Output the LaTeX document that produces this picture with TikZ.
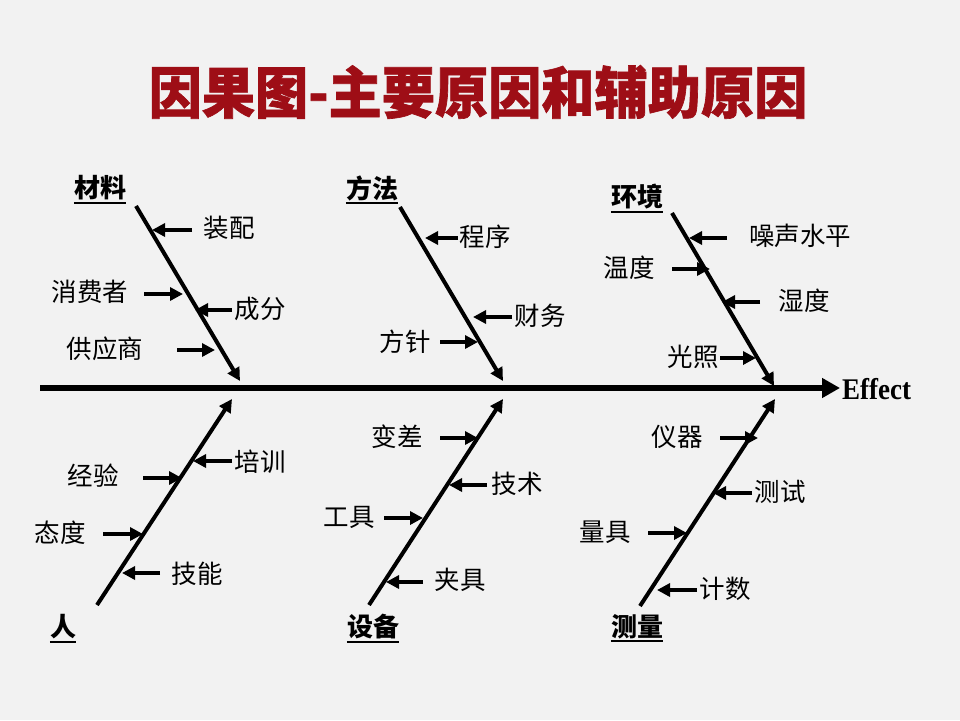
\documentclass[tikz,border=0pt]{standalone}
\usepackage{fontspec}
\newfontfamily\cjk{Noto Sans CJK SC}
\newfontfamily\titlefont{Noto Sans CJK SC}[FakeStretch=0.95,FakeBold=1.2]
\newfontfamily\efont{Liberation Serif}[FakeStretch=0.9]
\usetikzlibrary{arrows.meta}
\definecolor{bgc}{RGB}{242,242,242}
\definecolor{titlered}{RGB}{158,14,22}
\begin{document}
\begin{tikzpicture}[x=1pt,y=-1pt,
  bone/.style={line width=4pt,-{Triangle[length=13pt,width=13pt]}},
  subarr/.style={line width=4pt,-{Triangle[length=13pt,width=13pt]}},
  spine/.style={line width=6.5pt,-{Triangle[length=18pt,width=19pt]}},
  lbl/.style={font=\cjk\fontsize{25.5}{30}\selectfont,inner sep=0pt},
  cat/.style={font=\cjk\bfseries\fontsize{26}{30}\selectfont,inner sep=0pt},
  uline/.style={line width=2pt}]
\fill[bgc] (0,0) rectangle (960,720);
\useasboundingbox (0,0) rectangle (960,720);

% title
\node[font=\titlefont\bfseries\fontsize{56}{60}\selectfont,text=titlered,inner sep=0pt] (title) at (478,92) {因果图-主要原因和辅助原因};

% spine
\coordinate (s0) at (40,388);
\coordinate (s1) at (840,388);
\draw[spine] (s0) -- (s1);
\node[font=\efont\bfseries\fontsize{30}{34}\selectfont,anchor=west,inner sep=0pt] (effect) at (842,389) {Effect};

% bones
\coordinate (b1a) at (136,206); \coordinate (b1b) at (240,381);
\coordinate (b2a) at (400,207); \coordinate (b2b) at (503,381);
\coordinate (b3a) at (672,213); \coordinate (b3b) at (774,386);
\coordinate (b4a) at (97,605);  \coordinate (b4b) at (232,399);
\coordinate (b5a) at (369,605); \coordinate (b5b) at (503,399);
\coordinate (b6a) at (640,606); \coordinate (b6b) at (775,399);
\draw[bone] (b1a) -- (b1b);
\draw[bone] (b2a) -- (b2b);
\draw[bone] (b3a) -- (b3b);
\draw[bone] (b4a) -- (b4b);
\draw[bone] (b5a) -- (b5b);
\draw[bone] (b6a) -- (b6b);

% category labels
\node[cat] (c1) at (100,188) {材料};
\node[cat] (c2) at (372,188) {方法};
\node[cat] (c3) at (637,197) {环境};
\node[cat] (c4) at (63,627) {人};
\node[cat] (c5) at (373,627) {设备};
\node[cat] (c6) at (637,627) {测量};
\foreach \c in {c1,c2,c3,c4,c5,c6}
  \draw[uline] ([yshift=-2pt]\c.south west) -- ([yshift=-2pt]\c.south east);

% 材料
\node[lbl] (t11) at (229,228) {装配};
\node[lbl] (t12) at (90,292) {消费者};
\node[lbl] (t13) at (260,309) {成分};
\node[lbl] (t14) at (105,349) {供应商};
\coordinate (a11s) at (192,230); \coordinate (a11e) at (152,230);
\coordinate (a12s) at (144,294); \coordinate (a12e) at (183,294);
\coordinate (a13s) at (232,310); \coordinate (a13e) at (195,310);
\coordinate (a14s) at (177,350); \coordinate (a14e) at (215,350);
\draw[subarr] (a11s) -- (a11e);
\draw[subarr] (a12s) -- (a12e);
\draw[subarr] (a13s) -- (a13e);
\draw[subarr] (a14s) -- (a14e);

% 方法
\node[lbl] (t21) at (485,237) {程序};
\node[lbl] (t22) at (540,316) {财务};
\node[lbl] (t23) at (405,342) {方针};
\coordinate (a21s) at (458,238); \coordinate (a21e) at (425,238);
\coordinate (a22s) at (512,317); \coordinate (a22e) at (473,317);
\coordinate (a23s) at (440,342); \coordinate (a23e) at (478,342);
\draw[subarr] (a21s) -- (a21e);
\draw[subarr] (a22s) -- (a22e);
\draw[subarr] (a23s) -- (a23e);

% 环境
\node[lbl] (t31) at (800,236) {噪声水平};
\node[lbl] (t32) at (629,268) {温度};
\node[lbl] (t33) at (804,301) {湿度};
\node[lbl] (t34) at (693,357) {光照};
\coordinate (a31s) at (727,238); \coordinate (a31e) at (689,238);
\coordinate (a32s) at (672,269); \coordinate (a32e) at (710,269);
\coordinate (a33s) at (760,302); \coordinate (a33e) at (722,302);
\coordinate (a34s) at (720,358); \coordinate (a34e) at (756,358);
\draw[subarr] (a31s) -- (a31e);
\draw[subarr] (a32s) -- (a32e);
\draw[subarr] (a33s) -- (a33e);
\draw[subarr] (a34s) -- (a34e);

% 人
\node[lbl] (t41) at (260,462) {培训};
\node[lbl] (t42) at (93,476) {经验};
\node[lbl] (t43) at (60,533) {态度};
\node[lbl] (t44) at (197,574) {技能};
\coordinate (a41s) at (232,461); \coordinate (a41e) at (193,461);
\coordinate (a42s) at (143,478); \coordinate (a42e) at (182,478);
\coordinate (a43s) at (103,534); \coordinate (a43e) at (143,534);
\coordinate (a44s) at (160,573); \coordinate (a44e) at (122,573);
\draw[subarr] (a41s) -- (a41e);
\draw[subarr] (a42s) -- (a42e);
\draw[subarr] (a43s) -- (a43e);
\draw[subarr] (a44s) -- (a44e);

% 设备
\node[lbl] (t51) at (397,437) {变差};
\node[lbl] (t52) at (517,484) {技术};
\node[lbl] (t53) at (349,517) {工具};
\node[lbl] (t54) at (460,580) {夹具};
\coordinate (a51s) at (440,438); \coordinate (a51e) at (478,438);
\coordinate (a52s) at (487,485); \coordinate (a52e) at (449,485);
\coordinate (a53s) at (384,518); \coordinate (a53e) at (423,518);
\coordinate (a54s) at (423,582); \coordinate (a54e) at (386,582);
\draw[subarr] (a51s) -- (a51e);
\draw[subarr] (a52s) -- (a52e);
\draw[subarr] (a53s) -- (a53e);
\draw[subarr] (a54s) -- (a54e);

% 测量
\node[lbl] (t61) at (677,437) {仪器};
\node[lbl] (t62) at (780,492) {测试};
\node[lbl] (t63) at (605,532) {量具};
\node[lbl] (t64) at (725,589) {计数};
\coordinate (a61s) at (720,438); \coordinate (a61e) at (758,438);
\coordinate (a62s) at (752,493); \coordinate (a62e) at (713,493);
\coordinate (a63s) at (648,533); \coordinate (a63e) at (687,533);
\coordinate (a64s) at (697,590); \coordinate (a64e) at (657,590);
\draw[subarr] (a61s) -- (a61e);
\draw[subarr] (a62s) -- (a62e);
\draw[subarr] (a63s) -- (a63e);
\draw[subarr] (a64s) -- (a64e);
\end{tikzpicture}
\end{document}
